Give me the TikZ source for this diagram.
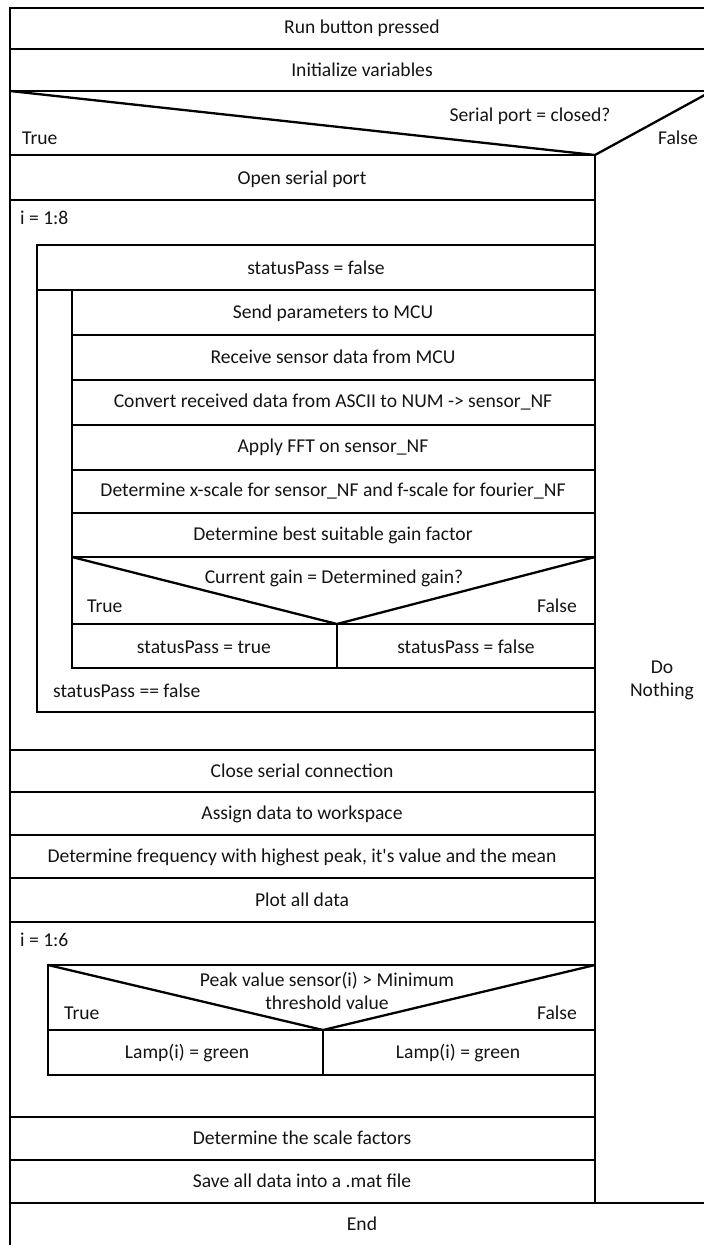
\documentclass[tikz,border=0pt]{standalone}
\usepackage{fontspec}
\setmainfont{Carlito}
\begin{document}
\begin{tikzpicture}[x=1pt,y=-1pt,
  frame/.style={draw=black, line width=2.3pt, line join=miter},
  txt/.style={font=\fontsize{19.6}{23}\selectfont, inner sep=0pt, text=black!92},
  lft/.style={txt, anchor=west},
  rgt/.style={txt, anchor=east}]
\useasboundingbox (0,0) rectangle (704,1245);
\clip (0,0) rectangle (704,1245);

% ---- outer frame and full-width rows ----
\draw[frame] (10,1260) -- (10,8) -- (712,8) -- (712,1260);
\draw[frame] (10,49) -- (712,49);
\draw[frame] (10,91) -- (712,91);
% decision: serial port closed?
\draw[frame] (10,91) -- (595,155) -- (712,91);
\draw[frame] (10,155) -- (595,155);
\draw[frame] (595,155) -- (595,1203);
\draw[frame] (10,1203) -- (712,1203);

% ---- left branch rows ----
\foreach \yy in {200,750,792,835,878,922,1117,1160}
  \draw[frame] (10,\yy) -- (595,\yy);

% ---- loop i = 1:8 with nested do-while ----
\draw[frame] (595,245) -- (37,245) -- (37,712) -- (595,712);
\draw[frame] (37,290) -- (595,290);
\draw[frame] (72,290) -- (72,668) -- (595,668);
\foreach \yy in {335,380,425,470,513,557,624}
  \draw[frame] (72,\yy) -- (595,\yy);
\draw[frame] (72,557) -- (337,624) -- (595,557);
\draw[frame] (337,624) -- (337,668);

% ---- loop i = 1:6 with threshold decision ----
\draw[frame] (595,965) -- (48,965) -- (48,1075) -- (595,1075);
\draw[frame] (48,965) -- (323,1030) -- (595,965);
\draw[frame] (48,1030) -- (595,1030);
\draw[frame] (323,1030) -- (323,1075);

% ---- texts ----
\node[txt] (run) at (362,28) {Run button pressed};
\node[txt] (init) at (362,70) {Initialize variables};
\node[txt] (cond1) at (530,116) {Serial port = closed?};
\node[lft] (t1) at (22,138) {True};
\node[txt] (f1) at (678,138) {False};
\node[txt] (open) at (302,179) {Open serial port};
\node[lft] (for8) at (20,218) {i = 1:8};
\node[txt] (sp0) at (316,268) {statusPass = false};
\node[txt] (send) at (333,313) {Send parameters to MCU};
\node[txt] (recv) at (333,357) {Receive sensor data from MCU};
\node[txt] (conv) at (333,402) {Convert received data from ASCII to NUM -> sensor\_NF};
\node[txt] (fft) at (333,447) {Apply FFT on sensor\_NF};
\node[txt] (xsc) at (333,491) {Determine x-scale for sensor\_NF and f-scale for fourier\_NF};
\node[txt] (gain) at (333,535) {Determine best suitable gain factor};
\node[txt] (cond2) at (334,578) {Current gain = Determined gain?};
\node[lft] (t2) at (87,606) {True};
\node[rgt] (f2) at (577,606) {False};
\node[txt] (spT) at (204,647) {statusPass = true};
\node[txt] (spF) at (466,647) {statusPass = false};
\node[lft] (whl) at (53,691) {statusPass == false};
\node[txt, align=center] (nop) at (662,680) {Do\\Nothing};
\node[txt] (close) at (302,771) {Close serial connection};
\node[txt] (assign) at (302,814) {Assign data to workspace};
\node[txt] (freq) at (302,857) {Determine frequency with highest peak, it\textquotesingle s value and the mean};
\node[txt] (plot) at (302,900) {Plot all data};
\node[lft] (for6) at (20,940) {i = 1:6};
\node[txt, align=center] (cond3) at (327,991) {Peak value sensor(i) > Minimum\\threshold value};
\node[lft] (t3) at (64,1013) {True};
\node[rgt] (f3) at (577,1013) {False};
\node[txt] (lampT) at (187,1053) {Lamp(i) = green};
\node[txt] (lampF) at (458,1053) {Lamp(i) = green};
\node[txt] (scale) at (302,1138) {Determine the scale factors};
\node[txt] (save) at (302,1181) {Save all data into a .mat file};
\node[txt] (stop) at (362,1224) {End};
\end{tikzpicture}
\end{document}
